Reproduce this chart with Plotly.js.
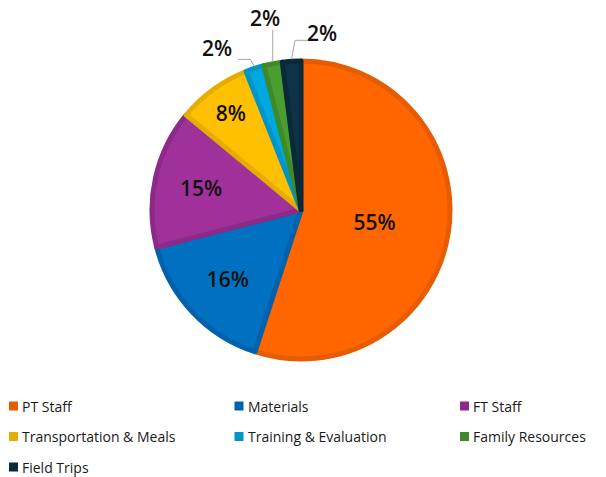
<!DOCTYPE html>
<html>
<head>
<meta charset="utf-8">
<script src="https://cdn.plot.ly/plotly-3.0.1.min.js"></script>
<style>
html,body{margin:0;padding:0;background:#fff;}
#chart{width:606px;height:477px;}
</style>
</head>
<body>
<div id="chart"></div>
<script>
var categories = ["PT Staff", "Materials", "FT Staff", "Transportation & Meals", "Training & Evaluation", "Family Resources", "Field Trips"];
var values = [55, 16, 15, 8, 2, 2, 2];
var fillColors = ["#FF6600", "#0070C0", "#A0309A", "#FFC000", "#00A8E0", "#4A9E30", "#0E3347"];
var borderColors = ["#E65C00", "#0062AC", "#8C2A88", "#E6AD00", "#0095C8", "#3F8A28", "#0A2A3A"];
var legendOrder = ["PT Staff", "Materials", "FT Staff", "Transportation & Meals", "Training & Evaluation", "Family Resources", "Field Trips"];

// placement (pixels, relative to the slice edge point) of labels drawn outside with leader lines
var outsideLabels = {
  4: {label: [-37, -18], elbow: [-4, -7], end: [-16, -7]},
  5: {label: [-8, -44], elbow: [0, -17], end: [0, -32]},
  6: {label: [30, -26], elbow: [3.5, -19], end: [18.5, -19]}
};

var W = 606, H = 477;
var cx = 301, cy = 210, R = 149;
var font = 'Open Sans, sans-serif';

function px2x(p){ return p / W; }
function px2y(p){ return 1 - p / H; }

var total = values.reduce(function(a, b){ return a + b; }, 0);
var textpos = values.map(function(v, i){ return outsideLabels[i] ? 'none' : 'inside'; });

var trace = {
  type: 'pie',
  labels: categories,
  values: values,
  sort: false,
  direction: 'clockwise',
  rotation: 0,
  marker: {colors: fillColors, line: {color: borderColors, width: 5}},
  texttemplate: '%{percent:.0%}',
  textposition: textpos,
  insidetextorientation: 'horizontal',
  textfont: {family: font, size: 21, color: '#111', weight: 600},
  hoverinfo: 'label+percent',
  showlegend: false,
  domain: {x: [px2x(cx - R), px2x(cx + R)], y: [px2y(cy + R), px2y(cy - R)]}
};

var annotations = [];
var shapes = [];
var cum = 0;
values.forEach(function(v, i){
  var mid = (cum + v / 2) / total;
  cum += v;
  var o = outsideLabels[i];
  if (!o) return;
  var ang = mid * 2 * Math.PI;
  var ex = cx + (R + 2) * Math.sin(ang);
  var ey = cy - (R + 2) * Math.cos(ang);
  annotations.push({
    x: px2x(ex + o.label[0]), y: px2y(ey + o.label[1]), xref: 'paper', yref: 'paper',
    xanchor: 'center', yanchor: 'middle',
    text: Math.round(v / total * 100) + '%', showarrow: false,
    font: {family: font, size: 21, color: '#111', weight: 600}
  });
  shapes.push({
    type: 'path', xref: 'paper', yref: 'paper',
    path: 'M' + px2x(ex) + ',' + px2y(ey) +
          ' L' + px2x(ex + o.elbow[0]) + ',' + px2y(ey + o.elbow[1]) +
          ' L' + px2x(ex + o.end[0]) + ',' + px2y(ey + o.end[1]),
    line: {color: '#A6A6A6', width: 1}
  });
});

// legend: 3 columns, built from the categories and colours
var legX0 = 9, legColW = 225.5, legY0 = 406, legRowH = 30.5, sw = 9;
legendOrder.forEach(function(name, k){
  var i = categories.indexOf(name);
  var col = k % 3, row = Math.floor(k / 3);
  var x = legX0 + col * legColW, y = legY0 + row * legRowH;
  shapes.push({
    type: 'rect', xref: 'paper', yref: 'paper',
    x0: px2x(x), x1: px2x(x + sw), y0: px2y(y - sw / 2), y1: px2y(y + sw / 2),
    fillcolor: borderColors[i], line: {width: 0}
  });
  annotations.push({
    x: px2x(x + sw + 2), y: px2y(y), xref: 'paper', yref: 'paper',
    xanchor: 'left', yanchor: 'middle', showarrow: false,
    text: name, font: {family: font, size: 14, color: '#1a1a1a'}
  });
});

var layout = {
  width: W, height: H,
  margin: {l: 0, r: 0, t: 0, b: 0},
  paper_bgcolor: '#fff',
  showlegend: false,
  annotations: annotations,
  shapes: shapes
};

Plotly.newPlot('chart', [trace], layout, {displayModeBar: false, staticPlot: true});
</script>
</body>
</html>
